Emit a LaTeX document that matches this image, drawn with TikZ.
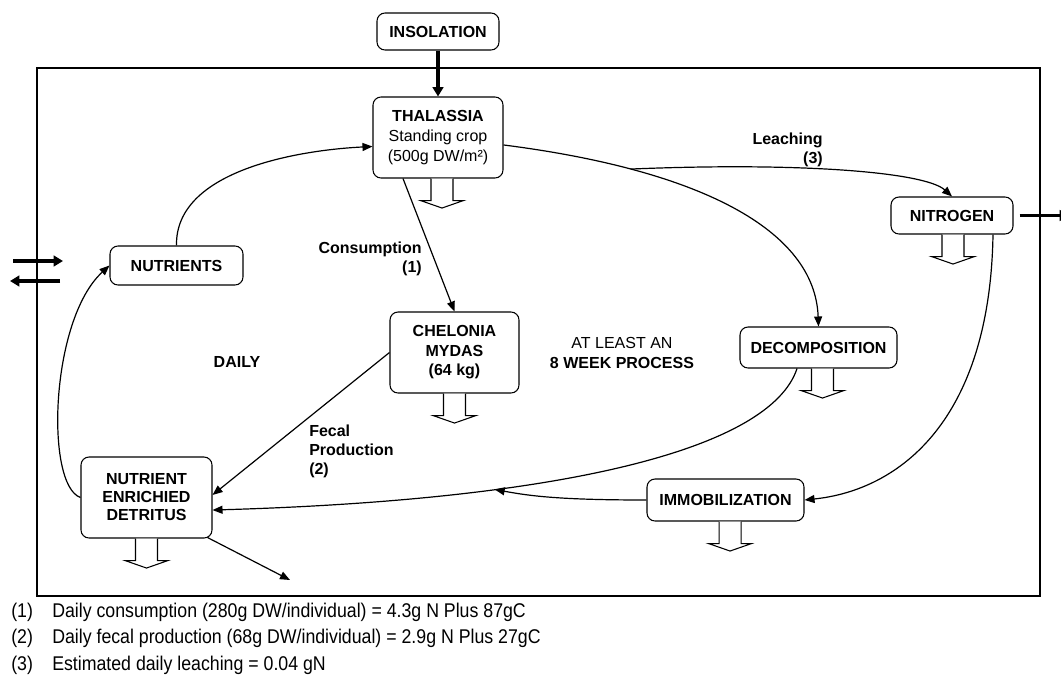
\documentclass[tikz,border=0pt]{standalone}
\usepackage{fontspec}
\usepackage{graphicx}
\setmainfont{Liberation Sans}
\usetikzlibrary{arrows.meta,calc}
\newcommand{\tallfn}[1]{\scalebox{1}[1.12]{#1}}
\begin{document}
\begin{tikzpicture}[x=0.75pt,y=-0.75pt,
  box/.style={draw, line width=0.8pt, rounded corners=6pt, inner sep=0pt, align=center,
    font=\fontsize{12}{14.5}\selectfont\bfseries},
  conn/.style={line width=0.9pt, -{Triangle[length=7.5pt,width=6pt]}},
  thick arrow/.style={line width=2.5pt, -{Triangle[length=7pt,width=8pt]}},
  lbl/.style={font=\fontsize{12}{14.3}\selectfont\bfseries, align=right, inner sep=0pt},
  fn/.style={font=\fontsize{13.3}{16}\selectfont, inner sep=0pt, anchor=base west},
  pics/outflow/.style={code={\draw[line width=0.8pt, fill=white]
     (-11,0) -- (-11,22) -- (-21.5,22) -- (0,29.5) -- (21.5,22) -- (11,22) -- (11,0);}}
]
\useasboundingbox (0,0) rectangle (1061,675);

% frame
\draw[line width=1.6pt] (37,68) rectangle (1040,596);

% nodes
\node[box, minimum width=91.5pt, minimum height=27.75pt, fill=white] (insol) at (438,31.5) {INSOLATION};
\node[box, minimum width=97.5pt, minimum height=60.75pt, font=\fontsize{12}{15}\selectfont\bfseries] (thal) at (438,137.5)
  {THALASSIA\\{\mdseries Standing crop}\\{\mdseries (500g DW/m\texttwosuperior)}};
\node[box, minimum width=99.75pt, minimum height=29.25pt] (nut) at (176.5,265.5) {NUTRIENTS};
\node[box, minimum width=98.25pt, minimum height=60.75pt, font=\fontsize{12}{13.5}\selectfont\bfseries] (det) at (146.5,497.5)
  {NUTRIENT\\ENRICHIED\\DETRITUS};
\node[box, minimum width=96.75pt, minimum height=60.75pt, font=\fontsize{12}{14.6}\selectfont\bfseries] (chel) at (454.5,352.5)
  {CHELONIA\\MYDAS\\(64 kg)};
\node[box, minimum width=117.75pt, minimum height=30.75pt] (decomp) at (818.5,347.5) {DECOMPOSITION};
\node[box, minimum width=91.5pt, minimum height=27.75pt] (nitro) at (952,215.5) {NITROGEN};
\node[box, minimum width=117.75pt, minimum height=31.5pt] (immob) at (725.5,500) {IMMOBILIZATION};

% outflows
\pic at ([xshift=3pt]thal.south) {outflow};
\pic at (chel.south) {outflow};
\pic at ([xshift=3pt]decomp.south) {outflow};
\pic at ([xshift=0.75pt]nitro.south) {outflow};
\pic at ([xshift=3.4pt]immob.south) {outflow};
\pic at (det.south) {outflow};

% thick arrows
\draw[thick arrow] (insol) -- (thal);
\coordinate (outR) at (1069,215.5);
\draw[thick arrow] ([xshift=4.5pt]nitro.east) -- (outR);
\coordinate (inA) at (13,261);
\coordinate (inB) at (63,261);
\coordinate (exA) at (60,281);
\coordinate (exB) at (10,281);
\draw[thick arrow] (inA) -- (inB);
\draw[thick arrow] (exA) -- (exB);

% connectors
\draw[conn] (nut.north) .. controls (175,170) and (300,150) .. ([yshift=-6.75pt]thal.west);
\draw[conn] ([xshift=-26.25pt]thal.south) -- (chel.north);
\draw[conn] ([yshift=-5.6pt]thal.east) .. controls (700,170) and (815,230) .. (decomp.north)
  coordinate[pos=0.24] (split);
\draw[conn] (split) .. controls (800,162) and (925,172) .. (nitro.north);
\draw[conn] ([xshift=-16.1pt]decomp.south) .. controls (770,450) and (560,500) .. ([yshift=-9.4pt]det.east)
  coordinate[pos=0.69] (merge);
\draw[conn] (chel.west) -- ([yshift=1.9pt]det.east);
\draw[conn] (immob.west) .. controls (560,500) and (530,496) .. (merge);
\draw[conn] ([xshift=30.75pt]nitro.south) .. controls (990,420) and (900,490) .. (immob.east);
\draw[conn] (det.west) .. controls (45,485) and (50,320) .. (nut.west);
\coordinate (off) at (290,580);
\draw[conn] ([xshift=-3.75pt,yshift=0.75pt]det.south east) -- (off);

% labels
\node[lbl, anchor=east] (consl) at (422,258.5) {Consumption\\(1)};
\node[lbl, anchor=west, align=left] (fecl) at (309,451) {Fecal\\Production\\(2)};
\node[lbl, anchor=east] (leachl) at (823,150) {Leaching\\(3)};
\node[lbl] (daily) at (237,362) {DAILY};
\node[lbl, align=center] (week) at (622,353) {{\mdseries AT LEAST AN}\\8 WEEK PROCESS};

% footnotes
\node[fn] (n1) at (11,617) {\tallfn{(1)}};
\node[fn] (t1) at (52,617) {\tallfn{Daily consumption (280g DW/individual) = 4.3g N Plus 87gC}};
\node[fn] (n2) at (11,643.5) {\tallfn{(2)}};
\node[fn] (t2) at (52,643.5) {\tallfn{Daily fecal production (68g DW/individual) = 2.9g N Plus 27gC}};
\node[fn] (n3) at (11,670) {\tallfn{(3)}};
\node[fn] (t3) at (52,670) {\tallfn{Estimated daily leaching = 0.04 gN}};
\end{tikzpicture}
\end{document}
